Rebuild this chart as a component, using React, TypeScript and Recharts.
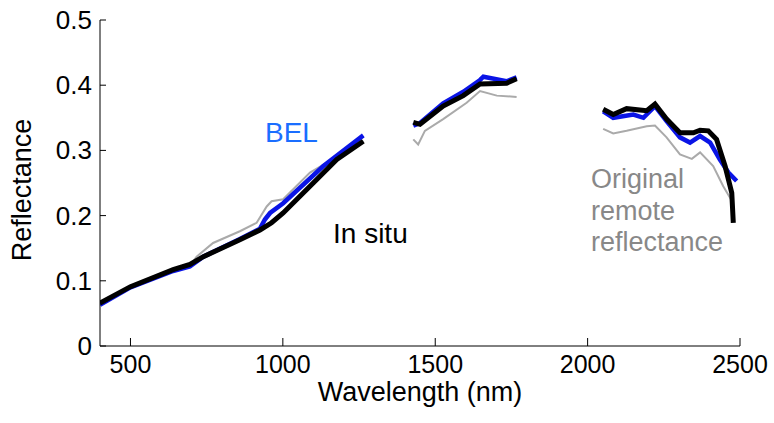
import React from 'react';
import { LineChart, Line, XAxis, YAxis } from 'recharts';

// [wavelength nm, reflectance]; null splits the bands removed by water absorption
const originalRemote: [number, number | null][] = [
  [400, 0.064], [500, 0.09], [640, 0.116], [700, 0.126], [717, 0.137], [771, 0.158],
  [859, 0.176], [914, 0.189], [947, 0.214], [963, 0.222], [1001, 0.225], [1089, 0.266],
  [1177, 0.29], [1264, 0.315], [1350, null],
  [1428, 0.317], [1444, 0.309], [1466, 0.33], [1526, 0.348], [1603, 0.373], [1647, 0.391],
  [1702, 0.384], [1767, 0.382], [1900, null],
  [2051, 0.333], [2084, 0.326], [2128, 0.33], [2194, 0.337], [2221, 0.338], [2259, 0.32],
  [2303, 0.294], [2342, 0.287], [2369, 0.297], [2412, 0.276], [2445, 0.245], [2478, 0.219],
];

const bel: [number, number | null][] = [
  [400, 0.063], [500, 0.09], [640, 0.115], [695, 0.122], [739, 0.137], [859, 0.164],
  [925, 0.18], [941, 0.194], [958, 0.204], [1001, 0.219], [1133, 0.276], [1264, 0.323],
  [1350, null],
  [1428, 0.338], [1450, 0.342], [1526, 0.372], [1592, 0.39], [1647, 0.408], [1658, 0.413],
  [1734, 0.406], [1767, 0.412], [1900, null],
  [2051, 0.36], [2084, 0.35], [2150, 0.355], [2183, 0.35], [2221, 0.368], [2259, 0.345],
  [2303, 0.32], [2336, 0.312], [2369, 0.322], [2402, 0.312], [2434, 0.286], [2462, 0.266],
  [2489, 0.253],
];

const inSitu: [number, number | null][] = [
  [400, 0.066], [500, 0.091], [640, 0.117], [695, 0.125], [739, 0.137], [859, 0.163],
  [925, 0.178], [963, 0.189], [1001, 0.204], [1089, 0.245], [1177, 0.286], [1264, 0.314],
  [1350, null],
  [1428, 0.343], [1450, 0.34], [1526, 0.368], [1592, 0.384], [1647, 0.402], [1734, 0.403],
  [1767, 0.41], [1900, null],
  [2051, 0.363], [2084, 0.355], [2128, 0.364], [2194, 0.361], [2221, 0.371], [2259, 0.348],
  [2303, 0.327], [2347, 0.327], [2369, 0.331], [2396, 0.33], [2423, 0.317], [2451, 0.276],
  [2473, 0.235], [2478, 0.189],
];

const xTicks = [500, 1000, 1500, 2000, 2500];
const yTicks = [0, 0.1, 0.2, 0.3, 0.4, 0.5];

const toRows = (pts: [number, number | null][]) => pts.map(([x, y]) => ({ x, y }));

const font = '"Liberation Sans", Arial, sans-serif';

const XTick = (props: any) => {
  const { x, y, payload } = props;
  return (
    <g>
      <line x1={x} y1={y} x2={x} y2={y - 8} stroke="#000" strokeWidth={1} />
      <text x={x} y={y + 27} textAnchor="middle" fontSize={25} fill="#000" fontFamily={font}>
        {payload.value}
      </text>
    </g>
  );
};

const YTick = (props: any) => {
  const { x, y, payload } = props;
  return (
    <g>
      <line x1={x} y1={y} x2={x + 6} y2={y} stroke="#000" strokeWidth={1} />
      <text x={x - 8} y={y + 9} textAnchor="end" fontSize={26} fill="#000" fontFamily={font}>
        {payload.value === 0 ? '0' : payload.value.toFixed(1)}
      </text>
    </g>
  );
};

export default function App() {
  return (
    <div style={{ position: 'absolute', left: 0, top: 0, background: '#fff' }}>
      <LineChart width={774} height={423} margin={{ top: 20, right: 34, bottom: 0, left: 0 }}>
        <XAxis
          type="number"
          dataKey="x"
          domain={[400, 2500]}
          ticks={xTicks}
          allowDataOverflow
          tickSize={0}
          tickMargin={0}
          tickLine={false}
          tick={<XTick />}
          height={77}
          stroke="#000"
        />
        <YAxis
          type="number"
          dataKey="y"
          domain={[0, 0.5]}
          ticks={yTicks}
          tickSize={0}
          tickMargin={0}
          tickLine={false}
          tick={<YTick />}
          width={100}
          stroke="#000"
        />
        <Line data={toRows(originalRemote)} dataKey="y" stroke="#aaaaaa" strokeWidth={2} dot={false} isAnimationActive={false} />
        <Line data={toRows(bel)} dataKey="y" stroke="#0a14e6" strokeWidth={4.5} dot={false} isAnimationActive={false} />
        <Line data={toRows(inSitu)} dataKey="y" stroke="#000" strokeWidth={5} dot={false} isAnimationActive={false} />
        <text x={420} y={401} textAnchor="middle" fontSize={27} fill="#000" fontFamily={font}>
          Wavelength (nm)
        </text>
        <text x={31} y={190} transform="rotate(-90 31 190)" textAnchor="middle" fontSize={27} fill="#000" fontFamily={font}>
          Reflectance
        </text>
        <text x={265} y={142} fontSize={28} fill="#1a6eff" fontFamily={font}>BEL</text>
        <text x={333} y={243} fontSize={28} fill="#000" fontFamily={font}>In situ</text>
        <text fontSize={27} fill="#888" fontFamily={font}>
          <tspan x={591} y={188}>Original</tspan>
          <tspan x={591} y={220}>remote</tspan>
          <tspan x={591} y={251}>reflectance</tspan>
        </text>
      </LineChart>
    </div>
  );
}
